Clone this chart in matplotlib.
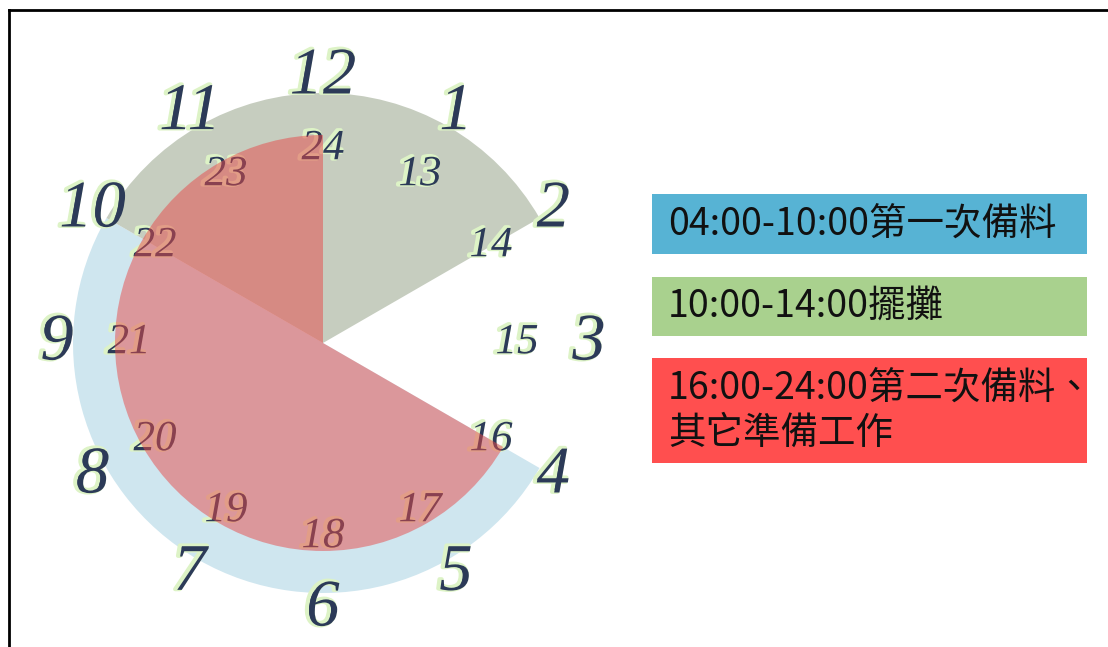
import matplotlib
matplotlib.use("Agg")
import matplotlib.pyplot as plt
import matplotlib.patheffects as pe
from matplotlib.patches import Wedge, Rectangle
import numpy as np

plt.rcParams['font.family'] = ['Noto Sans CJK TC', 'DejaVu Sans']

# tramos horarios (hora inicio, hora fin) sobre la esfera de 12 h
tramos_inicio = [4, 10, 16]
tramos_fin = [10, 14, 24]
tramos_radio = [250, 250, 208]
tramos_color = ['#CFE6EF', '#C6CDBF', '#E74949']
tramos_alpha = [1.0, 1.0, 0.5]

etiquetas = ['04:00-10:00第一次備料', '10:00-14:00擺攤', '16:00-24:00第二次備料、\n其它準備工作']
colores_caja = ['#57B3D4', '#A9D18E', '#FF4F4F']

horas_ext = list(range(1, 13))
horas_int = list(range(13, 25))

W, H = 1108, 647
cx, cy = 323, H - 343


def angulo(h):
    return 90 - (h % 12) * 30


fig = plt.figure(figsize=(W / 100, H / 100), dpi=100)
ax = fig.add_axes([0, 0, 1, 1])
ax.set_xlim(0, W)
ax.set_ylim(0, H)
ax.set_aspect('equal')
ax.axis('off')

# sectores
for ini, fin, r, c, a in zip(tramos_inicio, tramos_fin, tramos_radio, tramos_color, tramos_alpha):
    t1 = angulo(fin)
    t2 = angulo(ini)
    if t2 <= t1:
        t2 += 360
    z = 3 if a < 1 else 1
    ax.add_patch(Wedge((cx, cy), r, t1, t2, facecolor=c, alpha=a, edgecolor='none', zorder=z))

efecto = [pe.Stroke(linewidth=3, foreground='#DDF3C6', offset=(-1.5, 0.5)), pe.Normal()]

# numeros exteriores
for h in horas_ext:
    t = np.radians(angulo(h))
    ax.text(cx + 266 * np.cos(t), cy + 266 * np.sin(t), str(h), fontsize=48,
            family='Liberation Serif', style='italic', color='#2C3A58',
            ha='center', va='center', zorder=4, path_effects=efecto)

# numeros interiores (debajo del sector rojo)
for h in horas_int:
    t = np.radians(angulo(h))
    ax.text(cx + 194 * np.cos(t), cy + 194 * np.sin(t), str(h), fontsize=31,
            family='Liberation Serif', style='italic', color='#2C3A58',
            ha='center', va='center', zorder=2, path_effects=efecto)

# leyenda en cajas
cajas_y = [194, 277, 358]
cajas_h = [60, 59, 105]
for yy, hh, c, txt in zip(cajas_y, cajas_h, colores_caja, etiquetas):
    ax.add_patch(Rectangle((652, H - yy - hh), 435, hh, facecolor=c, edgecolor='none', zorder=1))
    ax.text(668, H - yy - hh / 2, txt, fontsize=27, color='#111111',
            ha='left', va='center', linespacing=1.2, zorder=2)

# marco
ax.plot([9, W], [H - 10, H - 10], color='black', lw=2, zorder=5)
ax.plot([9, 9], [0, H - 10], color='black', lw=2, zorder=5)

fig.savefig('out.png', dpi=100)
